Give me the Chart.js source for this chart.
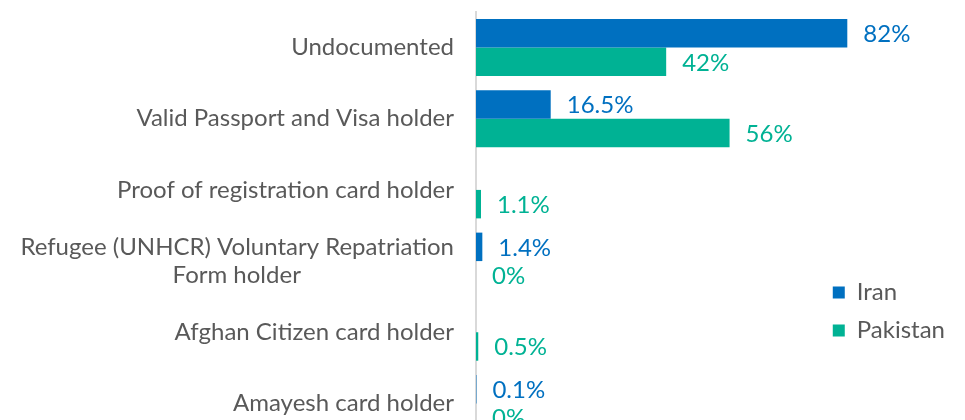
<!DOCTYPE html>
<html>
<head>
<meta charset="utf-8">
<script src="https://cdn.jsdelivr.net/npm/chart.js@4/dist/chart.umd.min.js"></script>
<style>
  html, body { margin: 0; padding: 0; background: #fff; overflow: hidden; }
  #wrap { width: 965px; height: 440px; position: relative; }
</style>
</head>
<body>
<div id="wrap"><canvas id="graph"></canvas></div>
<script>
// datos del grafico
var categorias = [
    "Undocumented",
    "Valid Passport and Visa holder",
    "Proof of registration card holder",
    ["Refugee (UNHCR) Voluntary Repatriation", "Form holder"],
    "Afghan Citizen card holder",
    "Amayesh card holder"
];
var iran = [82, 16.5, null, 1.4, null, 0.1];
var pakistan = [42, 56, 1.1, 0, 0.5, 0];

var azul = "#0070c0";
var verde = "#00b294";
var gris = "#595959";
var fuente = "24px Lato";

// centrar las lineas de una etiqueta de varias lineas
var medidor = document.createElement("canvas").getContext("2d");
function centrarLineas(lineas) {
    medidor.font = fuente;
    var anchos = lineas.map(function(t) { return medidor.measureText(t).width; });
    var maximo = Math.max.apply(null, anchos);
    var esp = medidor.measureText("\u2007").width;
    return lineas.map(function(t, i) {
        return t + "\u2007".repeat(Math.round((maximo - anchos[i]) / 2 / esp));
    });
}

// etiquetas de valor al final de cada barra
var etiquetas = {
    id: "etiquetas",
    afterDatasetsDraw: function(chart) {
        var ctx = chart.ctx;
        ctx.save();
        ctx.font = fuente;
        ctx.textBaseline = "middle";
        ctx.textAlign = "left";
        chart.data.datasets.forEach(function(ds, i) {
            var meta = chart.getDatasetMeta(i);
            meta.data.forEach(function(bar, j) {
                var v = ds.data[j];
                if (v === null || v === undefined) return;
                ctx.fillStyle = ds.backgroundColor;
                ctx.fillText(v + "%", bar.x + 16, bar.y + 1);
            });
        });
        ctx.restore();
    }
};

var grafico = document.getElementById("graph").getContext("2d");

var chart = new Chart(grafico, {
    type: "bar",
    data: {
        labels: categorias,
        datasets: [
            { label: "Iran", data: iran, backgroundColor: azul, clip: false },
            { label: "Pakistan", data: pakistan, backgroundColor: verde, clip: false }
        ]
    },
    options: {
        indexAxis: "y",
        responsive: true,
        maintainAspectRatio: false,
        animation: false,
        categoryPercentage: 0.8,
        barPercentage: 1.0,
        layout: { padding: { top: 12, bottom: 1, left: 0, right: 10 } },
        scales: {
            x: { display: false, min: 0, max: 75.7 },
            y: {
                grid: { display: false, drawTicks: false },
                border: { display: true, color: "#d9d9d9", width: 2 },
                ticks: {
                    color: gris,
                    font: { family: "Lato", size: 24, lineHeight: 1.17 },
                    padding: 22,
                    callback: function(value) {
                        var l = categorias[value];
                        return Array.isArray(l) ? centrarLineas(l) : l;
                    }
                },
                afterFit: function(scale) {
                    // ancho fijo del eje y sin margen extra arriba/abajo
                    scale.width = 476;
                    scale.paddingTop = 0;
                    scale.paddingBottom = 0;
                }
            }
        },
        plugins: {
            tooltip: { enabled: false },
            legend: {
                position: "right",
                align: "start",
                title: { display: true, text: "", padding: { top: 240, bottom: 0 } },
                labels: {
                    color: gris,
                    font: { family: "Lato", size: 24 },
                    boxWidth: 12,
                    boxHeight: 12,
                    padding: 14
                }
            }
        }
    },
    plugins: [etiquetas]
});
</script>
</body>
</html>
